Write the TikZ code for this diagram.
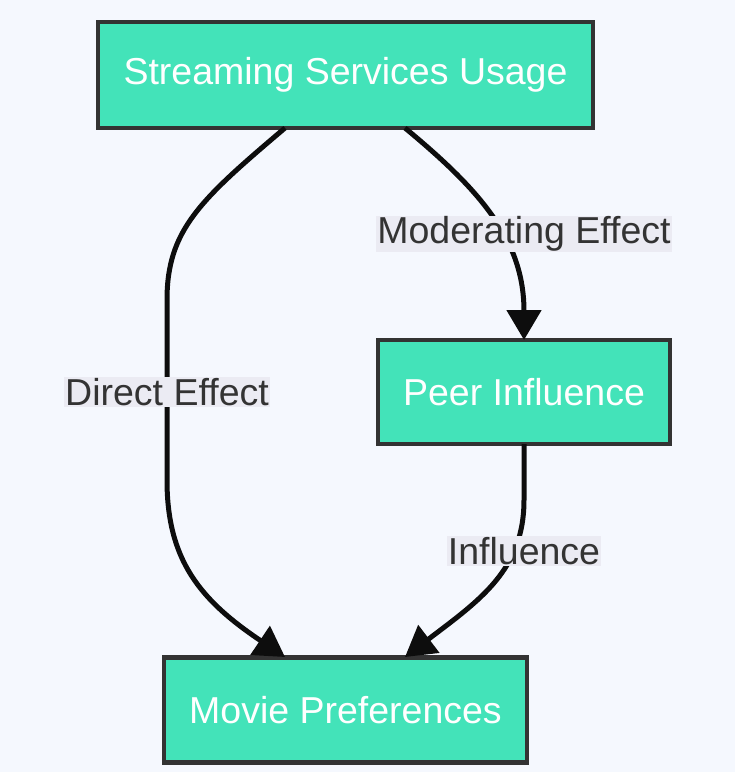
\documentclass[tikz,border=0pt]{standalone}
\usepackage{fontspec}
\setmainfont{Liberation Sans}
\usetikzlibrary{arrows.meta}
\definecolor{bg}{HTML}{F5F8FE}
\definecolor{nodefill}{HTML}{43E3B9}
\definecolor{nodeborder}{HTML}{333333}
\definecolor{lblbg}{HTML}{EBEBF3}
\begin{document}
\begin{tikzpicture}[x=1pt,y=-1pt,
  box/.style={draw=nodeborder,line width=4.5pt,fill=nodefill,text=white,font=\fontsize{37.5}{42}\selectfont,inner sep=0pt},
  lbl/.style={fill=lblbg,text=nodeborder,font=\fontsize{37.5}{42}\selectfont,inner sep=1pt},
  edge/.style={line width=5pt,draw=black!95,-{Triangle[length=30pt,width=34pt]}}]
\fill[bg] (0,0) rectangle (735,772);
\useasboundingbox (0,0) rectangle (735,772);
\node[box,minimum width=495pt,minimum height=106pt] (top) at (345.5,75) {Streaming Services Usage};
\node[box,minimum width=292pt,minimum height=104pt] (peer) at (524,392) {Peer Influence};
\node[box,minimum width=363pt,minimum height=105pt] (movie) at (345.5,710) {Movie Preferences};
\coordinate (t1) at (285,128);
\coordinate (t2) at (405,128);
\coordinate (m1) at (285,657);
\coordinate (m2) at (405,657);
\coordinate (p1) at (524,340);
\coordinate (p2) at (524,444);
\draw[edge] (t1) .. controls (200,200) and (167,230) .. (167,300) -- (167,480) .. controls (167,560) and (200,600) .. (m1);
\draw[edge] (t2) .. controls (480,190) and (524,240) .. (p1);
\draw[edge] (p2) -- (524,500) .. controls (524,570) and (480,600) .. (m2);
\node[lbl] (l1) at (167,392) {Direct Effect};
\node[lbl] (l2) at (524,234) {Moderating Effect};
\node[lbl] (l3) at (524,551) {Influence};
\end{tikzpicture}
\end{document}
